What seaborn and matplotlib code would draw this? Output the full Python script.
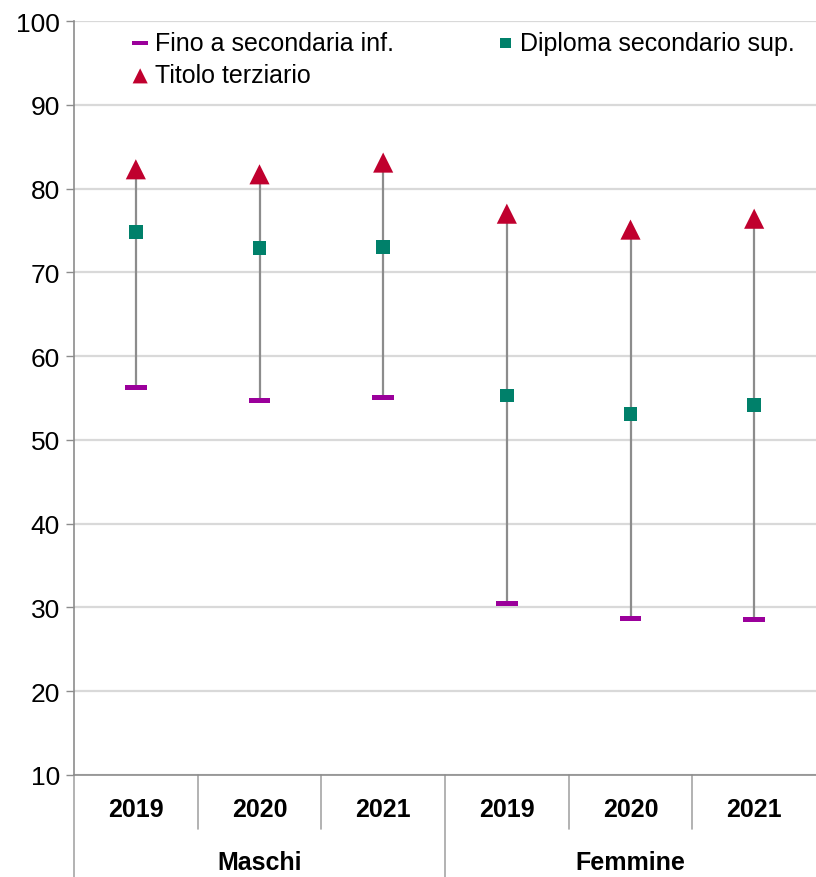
import numpy as np
import pandas as pd
import seaborn as sns
import matplotlib.pyplot as plt

# values
groups = ["Maschi", "Femmine"]
years = ["2019", "2020", "2021"]
fino_sec_inf = [56.3, 54.7, 55.1, 30.5, 28.7, 28.6]
diploma_sec_sup = [74.8, 72.9, 73.0, 55.3, 53.1, 54.2]
titolo_terziario = [82.3, 81.7, 83.1, 77.0, 75.1, 76.4]

labels = ["Fino a secondaria inf.", "Diploma secondario sup.", "Titolo terziario"]
colors = ["#9b009b", "#00806a", "#c0002e"]

pos = np.arange(len(groups) * len(years))
df = pd.DataFrame({
    "pos": pos,
    "fino": fino_sec_inf,
    "diploma": diploma_sec_sup,
    "terziario": titolo_terziario,
})

sns.set_style("white")
plt.rcParams["font.family"] = ["Liberation Sans Narrow", "Liberation Sans", "DejaVu Sans"]
plt.rcParams["text.color"] = "black"
plt.rcParams["xtick.color"] = "black"
plt.rcParams["ytick.color"] = "black"

fig = plt.figure(figsize=(8.16, 8.78), dpi=100)
ax = fig.add_axes([74 / 816, 1 - 776 / 878, 1 - 74 / 816, (776 - 22) / 878])

# grey range line from lowest to highest value
ax.vlines(df["pos"], df["fino"], df["terziario"], color="#8c8c8c", lw=1.6, zorder=2)

# flat bar marker for the lower level
dash = [(-1, -0.22), (1, -0.22), (1, 0.22), (-1, 0.22)]
sns.scatterplot(data=df, x="pos", y="fino", marker=dash, s=250, color=colors[0],
                edgecolor="none", label=labels[0], ax=ax, zorder=3)
sns.scatterplot(data=df, x="pos", y="diploma", marker="s", s=100, color=colors[1],
                edgecolor="none", label=labels[1], ax=ax, zorder=3)
sns.scatterplot(data=df, x="pos", y="terziario", marker="^", s=210, color=colors[2],
                edgecolor="none", label=labels[2], ax=ax, zorder=3)

ax.set_xlim(-0.5, 5.5)
ax.set_ylim(10, 100)
ax.set_yticks(range(10, 101, 10))
ax.tick_params(axis="y", labelsize=19, length=6, width=1, color="#8c8c8c",
               labelcolor="black", left=True, pad=4)
ax.yaxis.grid(True, color="#d9d9d9", lw=1.6)
ax.set_axisbelow(True)

ax.set_xticks(pos)
ax.set_xticklabels(years * len(groups), fontsize=18, fontweight="bold", color="black")
ax.tick_params(axis="x", length=0, pad=16)
ax.set_xlabel("")
ax.set_ylabel("")

for side in ["top", "right"]:
    ax.spines[side].set_visible(False)
for side in ["left", "bottom"]:
    ax.spines[side].set_color("#8c8c8c")
    ax.spines[side].set_linewidth(1.2)

# category separators below the axis
trans = ax.get_xaxis_transform()
for x in [0.5, 1.5, 3.5, 4.5]:
    ax.plot([x, x], [0, -0.072], color="#a6a6a6", lw=1.2, transform=trans, clip_on=False)
ax.plot([2.5, 2.5], [0, -0.14], color="#a6a6a6", lw=1.2, transform=trans, clip_on=False)
ax.plot([-0.5, -0.5], [0, -0.14], color="#a6a6a6", lw=1.2, transform=trans, clip_on=False)

for i, g in enumerate(groups):
    ax.text(1 + 3 * i, -0.115, g, transform=trans, ha="center", va="center",
            fontsize=18, fontweight="bold", color="black")

h, l = ax.get_legend_handles_labels()
order = [0, 2, 1]
ax.legend([h[i] for i in order], [l[i] for i in order], ncol=2, loc="upper left",
          bbox_to_anchor=(0.042, 1.017), frameon=False, fontsize=18,
          handletextpad=0.1, columnspacing=3.95, labelspacing=0.35, markerscale=0.75,
          handlelength=1.0, labelcolor="black")

plt.savefig("out.png", dpi=100)
